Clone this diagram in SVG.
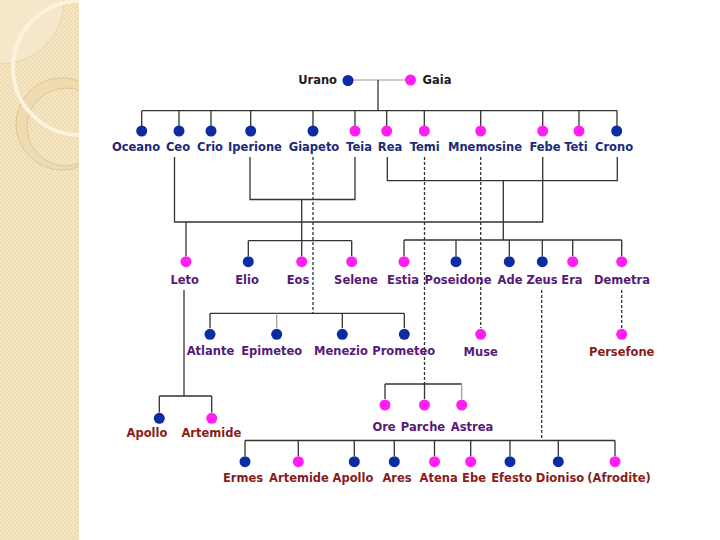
<svg xmlns="http://www.w3.org/2000/svg" width="720" height="540" viewBox="0 0 720 540">
<defs>
<pattern id="chk" width="4" height="4" patternUnits="userSpaceOnUse">
<rect width="4" height="4" fill="#efdcb3"/>
<rect width="2" height="2" fill="#f4e5c3"/>
<rect x="2" y="2" width="2" height="2" fill="#f4e5c3"/>
</pattern>
<clipPath id="pc"><rect x="0" y="0" width="79" height="540"/></clipPath>
<style>
.ln{stroke:#333;stroke-width:1.3;fill:none}
.lt{stroke:#9a9a9a;stroke-width:1.2;fill:none}
.ds{stroke:#333;stroke-width:1.3;fill:none;stroke-dasharray:3 2}
.b{fill:#0d2ba3}
.m{fill:#ff1ff2}
text{font-family:"DejaVu Sans",Verdana,sans-serif;font-weight:bold;font-size:11.5px;text-anchor:middle}
.c0{fill:#1c1c1c}
.c1{fill:#1b2a78}
.c2{fill:#561a78}
.c3{fill:#8b1b1b}
</style>
</defs>
<rect width="720" height="540" fill="#ffffff"/>
<g id="panel" clip-path="url(#pc)">
<rect x="0" y="0" width="79" height="540" fill="url(#chk)"/>
<circle cx="0" cy="0" r="64" fill="#f6ead0" fill-opacity="0.7" stroke="#e3cfa5" stroke-width="0.8"/>
<circle cx="62" cy="124" r="46" fill="#eedbb0" stroke="#dcc79c" stroke-width="1"/>
<circle cx="66" cy="127" r="39" fill="url(#chk)" stroke="#dcc79c" stroke-width="1"/>
<circle cx="80" cy="68" r="67" fill="none" stroke="#fbf3de" stroke-width="4"/>
</g>
<g id="connectors">
<path class="lt" d="M348,80 H410"/>
<path class="ln" d="M378,80 V110.7 M141.7,110.7 H617.3"/>
<path class="ln" d="M141.7,110.7 V126 M179,110.7 V126 M211,110.7 V126 M250.7,110.7 V126 M313,110.7 V126 M355,110.7 V126 M386.7,110.7 V126 M424.3,110.7 V126 M480.7,110.7 V126 M542.7,110.7 V126 M579,110.7 V126 M617,110.7 V126"/>
<path class="ln" d="M174.5,157 V222 H542.7 V157 M186,222 V256"/>
<path class="ln" d="M250,157 V199.5 H355 V157 M301.7,199.5 V256 M248.3,240.7 H351.7 M248.3,240.7 V256 M351.7,240.7 V256"/>
<path class="ln" d="M387.3,157 V180.7 H617.3 V157 M503.3,180.7 V240 M404,240 H621.7 M404,240 V256 M456,240 V256 M509.3,240 V256 M542.3,240 V256 M572.7,240 V256 M621.7,240 V256"/>
<path class="ds" d="M313,157 V313.3 M424.5,157 V384 M480.7,157 V328 M541.7,290 V440.5 M621.7,290 V328"/>
<path class="ln" d="M210,313.3 H404.3 M210,313.3 V328 M342.3,313.3 V328 M404.3,313.3 V328"/>
<path class="lt" d="M276.7,313.3 V328"/>
<path class="ln" d="M184,290 V396 M159.3,396 H211.7 M159.3,396 V412.5 M211.7,396 V412.5"/>
<path class="ln" d="M385,384 H461.7 M385,384 V399 M424.5,384 V399"/>
<path class="lt" d="M461.7,384 V399"/>
<path class="ln" d="M245,440.5 H615 M245,440.5 V456 M298.3,440.5 V456 M354.3,440.5 V456 M394.3,440.5 V456 M434.5,440.5 V456 M470.7,440.5 V456 M510,440.5 V456 M558.3,440.5 V456 M615,440.5 V456"/>
</g>
<g id="urano"><circle class="b" cx="348" cy="80.5" r="5.5"/><text class="c0" x="337" y="83.5" style="text-anchor:end">Urano</text></g>
<g id="gaia"><circle class="m" cx="410.5" cy="80" r="5.5"/><text class="c0" x="422.5" y="83.5" style="text-anchor:start">Gaia</text></g>
<g id="oceano"><circle class="b" cx="141.7" cy="131" r="5.5"/><text class="c1" x="136" y="151">Oceano</text></g>
<g id="ceo"><circle class="b" cx="179" cy="131" r="5.5"/><text class="c1" x="178" y="151">Ceo</text></g>
<g id="crio"><circle class="b" cx="211" cy="131" r="5.5"/><text class="c1" x="210" y="151">Crio</text></g>
<g id="iperione"><circle class="b" cx="250.7" cy="131" r="5.5"/><text class="c1" x="255" y="151">Iperione</text></g>
<g id="giapeto"><circle class="b" cx="313" cy="131" r="5.5"/><text class="c1" x="314" y="151">Giapeto</text></g>
<g id="teia"><circle class="m" cx="355" cy="131" r="5.5"/><text class="c1" x="359" y="151">Teia</text></g>
<g id="rea"><circle class="m" cx="386.7" cy="131" r="5.5"/><text class="c1" x="390" y="151">Rea</text></g>
<g id="temi"><circle class="m" cx="424.3" cy="131" r="5.5"/><text class="c1" x="424.7" y="151">Temi</text></g>
<g id="mnemosine"><circle class="m" cx="480.7" cy="131" r="5.5"/><text class="c1" x="485" y="151">Mnemosine</text></g>
<g id="febe"><circle class="m" cx="542.7" cy="131" r="5.5"/><text class="c1" x="545" y="151">Febe</text></g>
<g id="teti"><circle class="m" cx="579" cy="131" r="5.5"/><text class="c1" x="576" y="151">Teti</text></g>
<g id="crono"><circle class="b" cx="616.7" cy="131" r="5.5"/><text class="c1" x="614" y="151">Crono</text></g>
<g id="leto"><circle class="m" cx="186" cy="261.7" r="5.5"/><text class="c2" x="184.7" y="284">Leto</text></g>
<g id="elio"><circle class="b" cx="248.3" cy="261.7" r="5.5"/><text class="c2" x="247" y="284">Elio</text></g>
<g id="eos"><circle class="m" cx="301.7" cy="261.7" r="5.5"/><text class="c2" x="298" y="284">Eos</text></g>
<g id="selene"><circle class="m" cx="351.7" cy="261.7" r="5.5"/><text class="c2" x="356" y="284">Selene</text></g>
<g id="estia"><circle class="m" cx="404" cy="261.7" r="5.5"/><text class="c2" x="403" y="284">Estia</text></g>
<g id="poseidone"><circle class="b" cx="456" cy="261.7" r="5.5"/><text class="c2" x="458" y="284">Poseidone</text></g>
<g id="ade"><circle class="b" cx="509.3" cy="261.7" r="5.5"/><text class="c2" x="510" y="284">Ade</text></g>
<g id="zeus"><circle class="b" cx="542.3" cy="261.7" r="5.5"/><text class="c2" x="542" y="284">Zeus</text></g>
<g id="era"><circle class="m" cx="572.7" cy="261.7" r="5.5"/><text class="c2" x="572" y="284">Era</text></g>
<g id="demetra"><circle class="m" cx="621.7" cy="261.7" r="5.5"/><text class="c2" x="622" y="284">Demetra</text></g>
<g id="atlante"><circle class="b" cx="210" cy="334.3" r="5.5"/><text class="c2" x="210.5" y="355">Atlante</text></g>
<g id="epimeteo"><circle class="b" cx="276.7" cy="334.3" r="5.5"/><text class="c2" x="271.7" y="355">Epimeteo</text></g>
<g id="menezio"><circle class="b" cx="342.3" cy="334.3" r="5.5"/><text class="c2" x="341" y="355">Menezio</text></g>
<g id="prometeo"><circle class="b" cx="404.3" cy="334.3" r="5.5"/><text class="c2" x="403.7" y="355">Prometeo</text></g>
<g id="muse"><circle class="m" cx="480.7" cy="334.3" r="5.5"/><text class="c2" x="480.7" y="356">Muse</text></g>
<g id="persefone"><circle class="m" cx="621.7" cy="334.3" r="5.5"/><text class="c3" x="621.7" y="356">Persefone</text></g>
<g id="apollo1"><circle class="b" cx="159.3" cy="418.3" r="5.5"/><text class="c3" x="147" y="437">Apollo</text></g>
<g id="artemide1"><circle class="m" cx="211.7" cy="418.3" r="5.5"/><text class="c3" x="211.3" y="437">Artemide</text></g>
<g id="ore"><circle class="m" cx="385" cy="405" r="5.5"/><text class="c2" x="384" y="430.5">Ore</text></g>
<g id="parche"><circle class="m" cx="424.5" cy="405" r="5.5"/><text class="c2" x="423" y="430.5">Parche</text></g>
<g id="astrea"><circle class="m" cx="461.7" cy="405" r="5.5"/><text class="c2" x="472" y="430.5">Astrea</text></g>
<g id="ermes"><circle class="b" cx="245" cy="461.7" r="5.5"/><text class="c3" x="243" y="482">Ermes</text></g>
<g id="artemide2"><circle class="m" cx="298.3" cy="461.7" r="5.5"/><text class="c3" x="299" y="482">Artemide</text></g>
<g id="apollo2"><circle class="b" cx="354.3" cy="461.7" r="5.5"/><text class="c3" x="353" y="482">Apollo</text></g>
<g id="ares"><circle class="b" cx="394.3" cy="461.7" r="5.5"/><text class="c3" x="397" y="482">Ares</text></g>
<g id="atena"><circle class="m" cx="434.5" cy="461.7" r="5.5"/><text class="c3" x="438.7" y="482">Atena</text></g>
<g id="ebe"><circle class="m" cx="470.7" cy="461.7" r="5.5"/><text class="c3" x="474" y="482">Ebe</text></g>
<g id="efesto"><circle class="b" cx="510" cy="461.7" r="5.5"/><text class="c3" x="511.7" y="482">Efesto</text></g>
<g id="dioniso"><circle class="b" cx="558.3" cy="461.7" r="5.5"/><text class="c3" x="560" y="482">Dioniso</text></g>
<g id="afrodite"><circle class="m" cx="615" cy="461.7" r="5.5"/><text class="c3" x="619" y="482">(Afrodite)</text></g>
</svg>
